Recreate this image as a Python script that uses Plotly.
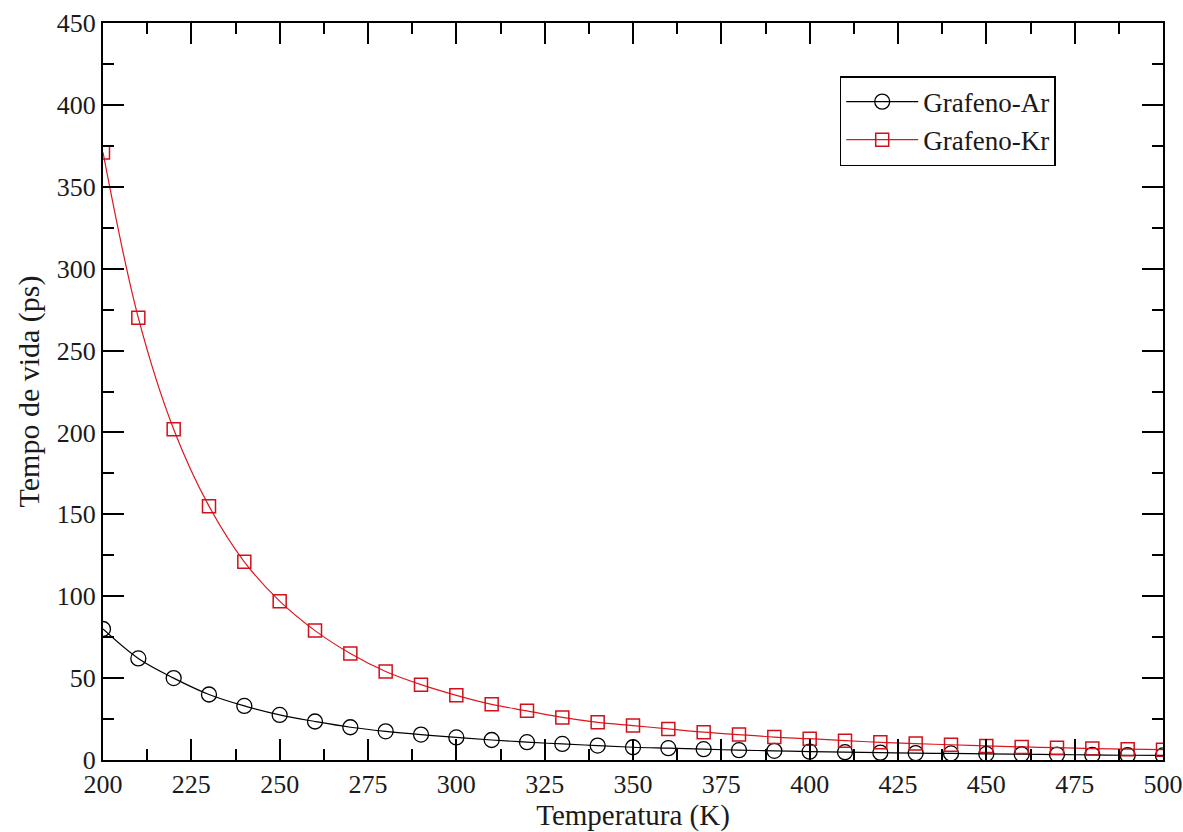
import plotly.graph_objects as go

temperature = [200, 210, 220, 230, 240, 250, 260, 270, 280, 290, 300, 310, 320, 330, 340,
               350, 360, 370, 380, 390, 400, 410, 420, 430, 440, 450, 460, 470, 480, 490, 500]
grafeno_ar = [80, 62, 50, 40, 33, 27.5, 23.5, 20, 17.5, 15.5, 13.8, 12.2, 10.9, 9.8, 8.8,
              7.8, 7.2, 6.6, 6.0, 5.6, 5.1, 4.8, 4.5, 4.2, 4.0, 3.7, 3.5, 3.3, 3.1, 2.9, 2.8]
grafeno_kr = [371, 270, 202, 155, 121, 97, 79, 65, 54, 46, 39.5, 34, 30, 26, 23,
              21, 19, 17, 15.5, 14, 13, 11.8, 10.8, 10, 9.3, 8.6, 8.0, 7.5, 7.0, 6.6, 6.3]
x_ticks = [200, 225, 250, 275, 300, 325, 350, 375, 400, 425, 450, 475, 500]
y_ticks = [0, 50, 100, 150, 200, 250, 300, 350, 400, 450]

FONT = "Liberation Serif"
TXT = "#1a1a1a"

fig = go.Figure()
fig.add_trace(go.Scatter(
    x=temperature, y=grafeno_ar, name="Grafeno-Ar", mode="lines+markers",
    line=dict(color="black", width=1.2, shape="spline"),
    marker=dict(symbol="circle-open", size=15, color="black", line=dict(width=1.3)),
))
fig.add_trace(go.Scatter(
    x=temperature, y=grafeno_kr, name="Grafeno-Kr", mode="lines+markers",
    line=dict(color="#e0161e", width=1.2, shape="spline"),
    marker=dict(symbol="square-open", size=13, color="#d0101a", line=dict(width=1.5)),
))

axis_common = dict(
    showline=True, linecolor="black", linewidth=2, mirror="allticks",
    ticks="inside", ticklen=21, tickwidth=2, tickcolor="black",
    showgrid=False, zeroline=False, automargin=False,
    tickfont=dict(family=FONT, size=26, color=TXT),
)

fig.update_xaxes(
    range=[200, 500], tickvals=x_ticks,
    minor=dict(ticks="inside", ticklen=11, tickwidth=2, tickcolor="black", dtick=12.5, tick0=200, showgrid=False),
    title=dict(text="Temperatura (K)", font=dict(family=FONT, size=29, color=TXT), standoff=0),
    **axis_common,
)
fig.update_yaxes(
    range=[0, 450], tickvals=y_ticks,
    minor=dict(ticks="inside", ticklen=11, tickwidth=2, tickcolor="black", dtick=25, tick0=0, showgrid=False),
    title=dict(text="Tempo de vida (ps)", font=dict(family=FONT, size=30, color=TXT), standoff=8),
    **axis_common,
)

fig.update_layout(
    width=1183, height=832,
    margin=dict(l=103, r=20, t=23, b=72),
    plot_bgcolor="white", paper_bgcolor="white",
    showlegend=True,
    legend=dict(
        x=0.695, y=0.928, xanchor="left", yanchor="top",
        bordercolor="black", borderwidth=1.5, bgcolor="white",
        font=dict(family=FONT, size=27, color=TXT),
        tracegroupgap=0, itemwidth=72,
    ),
)

fig.write_html("out.html")
